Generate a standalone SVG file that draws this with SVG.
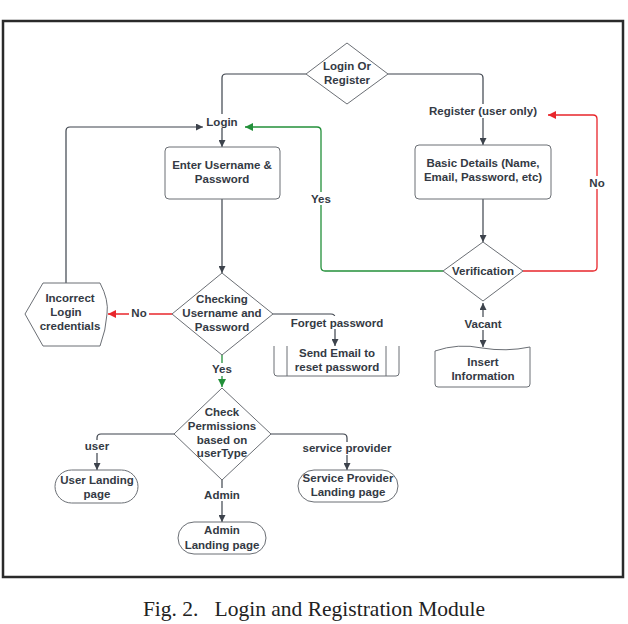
<svg xmlns="http://www.w3.org/2000/svg" width="628" height="624" viewBox="0 0 628 624">
<style>
.n{fill:#fff;stroke:#6b6f75;stroke-width:1}
.t{font-family:"Liberation Sans",Arial,sans-serif;font-size:11.5px;font-weight:bold;fill:#343a44;text-anchor:middle}
.c{fill:none;stroke:#3d434c;stroke-width:1.2}
.r{fill:none;stroke:#e8262b;stroke-width:1.3}
.g{fill:none;stroke:#23903a;stroke-width:1.3}
.lb{fill:#fff}
</style>
<defs>
<marker id="ad" viewBox="0 0 10 10" refX="10" refY="5" markerWidth="7" markerHeight="7" orient="auto" markerUnits="userSpaceOnUse"><path d="M0,0L10,5L0,10z" fill="#3d434c"/></marker>
<marker id="ar" viewBox="0 0 10 10" refX="10" refY="5" markerWidth="8" markerHeight="8" orient="auto" markerUnits="userSpaceOnUse"><path d="M0,0L10,5L0,10z" fill="#e8262b"/></marker>
<marker id="ag" viewBox="0 0 10 10" refX="10" refY="5" markerWidth="8" markerHeight="8" orient="auto" markerUnits="userSpaceOnUse"><path d="M0,0L10,5L0,10z" fill="#23903a"/></marker>
<marker id="as" viewBox="0 0 10 10" refX="0" refY="5" markerWidth="7" markerHeight="7" orient="auto" markerUnits="userSpaceOnUse"><path d="M10,0L0,5L10,10z" fill="#3d434c"/></marker>
</defs>
<rect width="628" height="624" fill="#fff"/>
<rect x="3" y="21" width="620" height="556" fill="none" stroke="#2a2a2a" stroke-width="2.5"/>

<g id="connectors">
<path class="c" d="M306,74H226Q222,74 222,78V147" marker-end="url(#ad)"/>
<path class="c" d="M388,74H479Q483,74 483,78V145" marker-end="url(#ad)"/>
<path class="c" d="M483,199V242" marker-end="url(#ad)"/>
<path class="r" d="M523,271H593Q597,271 597,267V119Q597,115 593,115H548" marker-end="url(#ar)"/>
<path class="g" d="M443,271H325Q321,271 321,267V131Q321,127 317,127H245" marker-end="url(#ag)"/>
<path class="c" d="M66,283V131Q66,127 70,127H203" marker-end="url(#ad)"/>
<path class="c" d="M222,199V273" marker-end="url(#ad)"/>
<path class="r" d="M172,314H108" marker-end="url(#ar)"/>
<path class="c" d="M273,314H331Q335,314 335,318V346" marker-end="url(#ad)"/>
<path class="g" d="M222,355V387" marker-end="url(#ag)"/>
<path class="c" d="M174,434H101Q97,434 97,438V470" marker-end="url(#ad)"/>
<path class="c" d="M222,480V522" marker-end="url(#ad)"/>
<path class="c" d="M271,434H343Q347,434 347,438V470" marker-end="url(#ad)"/>
<path class="c" d="M483,303V347" marker-start="url(#as)" marker-end="url(#ad)"/>
<rect class="lb" x="204" y="114" width="38" height="14"/>
<text class="t" x="222" y="126" font-size="12">Login</text>
<rect class="lb" x="424" y="104" width="118" height="14"/>
<text class="t" x="483" y="115">Register (user only)</text>
<rect class="lb" x="588" y="176" width="18" height="13"/>
<text class="t" x="597" y="187">No</text>
<rect class="lb" x="310" y="192" width="22" height="13"/>
<text class="t" x="321" y="203">Yes</text>
<rect class="lb" x="129" y="307" width="20" height="13"/>
<text class="t" x="139" y="317">No</text>
<rect class="lb" x="286" y="316" width="102" height="13"/>
<text class="t" x="337" y="327">Forget password</text>
<rect class="lb" x="211" y="363" width="22" height="13"/>
<text class="t" x="222" y="373">Yes</text>
<rect class="lb" x="83" y="440" width="28" height="13"/>
<text class="t" x="97" y="450">user</text>
<rect class="lb" x="202" y="488" width="40" height="13"/>
<text class="t" x="222" y="499" font-size="12">Admin</text>
<rect class="lb" x="298" y="442" width="98" height="13"/>
<text class="t" x="347" y="452">service provider</text>
<rect class="lb" x="461" y="317" width="44" height="13"/>
<text class="t" x="483" y="328">Vacant</text>
</g>

<g id="login-or-register">
<path class="n" d="M347,43L388,74L347,104L306,74z"/>
<text class="t" x="347" y="70">Login Or</text>
<text class="t" x="347" y="84">Register</text>
</g>
<g id="enter-username">
<rect class="n" x="165" y="147" width="115" height="52" rx="4"/>
<text class="t" x="222" y="169">Enter Username &amp;</text>
<text class="t" x="222" y="183">Password</text>
</g>
<g id="basic-details">
<rect class="n" x="415" y="145" width="136" height="54" rx="4"/>
<text class="t" x="483" y="167">Basic Details (Name,</text>
<text class="t" x="483" y="181">Email, Password, etc)</text>
</g>
<g id="verification">
<path class="n" d="M483,242L523,271L483,301L443,271z"/>
<text class="t" x="483" y="275">Verification</text>
</g>
<g id="checking">
<path class="n" d="M222,273L273,314L222,355L172,314z"/>
<text class="t" x="222" y="303">Checking</text>
<text class="t" x="222" y="317">Username and</text>
<text class="t" x="222" y="331">Password</text>
</g>
<g id="incorrect">
<path class="n" d="M43,283H100Q109,300 107,314Q106,330 100,346H43L25,314z"/>
<text class="t" x="70" y="302">Incorrect</text>
<text class="t" x="66" y="316">Login</text>
<text class="t" x="70" y="330">credentials</text>
</g>
<g id="send-email">
<path class="n" d="M274,346V373Q274,376 277,376H396Q399,376 399,373V346"/>
<path class="n" d="M287,346V376M386,346V376" stroke="#b8bbc0"/>
<text class="t" x="337" y="357">Send Email to</text>
<text class="t" x="337" y="371">reset password</text>
</g>
<g id="insert-info">
<path class="n" d="M435,351Q458,343 482,348Q506,352 530,347V384Q530,387 527,387H438Q435,387 435,384z"/>
<text class="t" x="483" y="366">Insert</text>
<text class="t" x="483" y="380">Information</text>
</g>
<g id="check-permissions">
<path class="n" d="M222,388L271,434L222,480L174,434z"/>
<text class="t" x="222" y="416">Check</text>
<text class="t" x="222" y="430">Permissions</text>
<text class="t" x="222" y="444">based on</text>
<text class="t" x="222" y="457">userType</text>
</g>
<g id="user-landing">
<rect class="n" x="55" y="470" width="83" height="33" rx="16.5"/>
<text class="t" x="97" y="484">User Landing</text>
<text class="t" x="97" y="498">page</text>
</g>
<g id="admin-landing">
<rect class="n" x="178" y="522" width="88" height="32" rx="16"/>
<text class="t" x="222" y="534">Admin</text>
<text class="t" x="222" y="549">Landing page</text>
</g>
<g id="service-landing">
<rect class="n" x="298" y="470" width="100" height="32" rx="16"/>
<text class="t" x="348" y="482">Service Provider</text>
<text class="t" x="348" y="496">Landing page</text>
</g>
<text x="314" y="616" font-family="'Liberation Serif','Times New Roman',serif" font-size="21.5" fill="#222" text-anchor="middle" xml:space="preserve">Fig. 2.   Login and Registration Module</text>
</svg>
